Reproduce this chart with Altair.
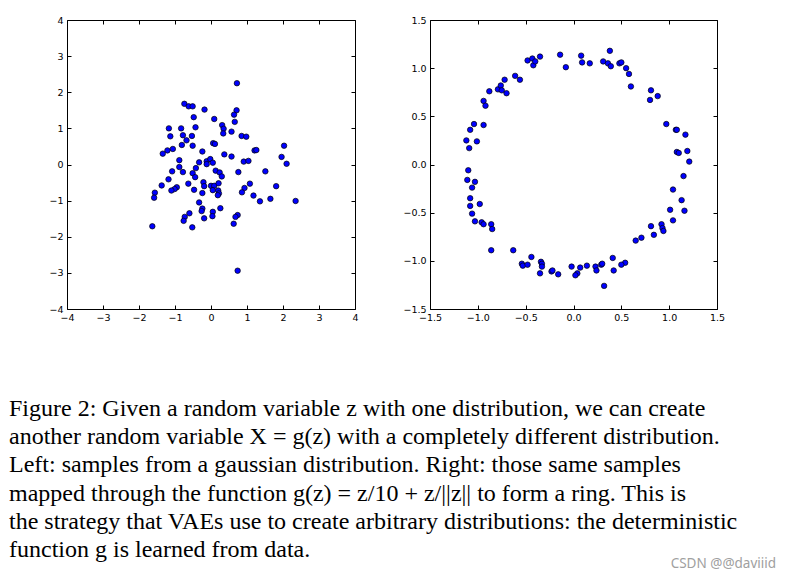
import altair as alt
import pandas as pd

# ---- Left panel: samples z from a gaussian ----
z_x = [-0.74, -0.62, -0.51, -0.18, -0.48, 0.09, -1.17, -0.83, -0.43, -1.13,
       -0.78, -0.53, -0.68, -0.81, -0.51, 0.06, 0.11, -1.06, -1.21, -1.34,
       -0.24, -0.88, -0.33, -0.12, -0.02, 0.05, -0.12, 0.72, 0.71, 0.64,
       0.66, 0.31, 0.35, 0.34, 0.57, 0.85, 0.98, 1.21, 1.26, 2.03,
       0.37, 0.57, 1.96, 2.10, 0.91, 1.04, -0.88, -1.08, -0.78, -0.42,
       -0.51, -0.44, -1.18, -1.37, -0.63, -0.21, -0.19, 0.00, 0.09, -0.95,
       -1.01, -1.10, -0.47, -0.24, 0.05, -1.56, -1.58, -0.33, -0.24, -0.26,
       0.05, -0.60, -0.73, -0.76, -0.19, 0.04, -0.52, -1.63, 0.13, 0.24,
       0.30, 0.76, 1.51, 0.21, 0.20, 0.22, 0.19, 1.08, 0.93, 0.86,
       1.81, 1.18, 1.65, 1.36, 2.35, 0.26, 0.74, 0.68, 0.63, 0.74]
z_y = [1.68, 1.61, 1.61, 1.52, 1.31, 1.26, 1.00, 1.00, 1.03, 0.78,
       0.81, 0.79, 0.67, 0.54, 0.52, 0.59, 0.57, 0.43, 0.39, 0.30,
       0.36, 0.12, 0.06, 0.09, 0.15, 0.05, 0.01, 2.25, 1.50, 1.38,
       1.18, 1.09, 0.99, 0.86, 0.91, 0.79, 0.77, 0.39, 0.40, 0.52,
       0.28, 0.22, 0.21, 0.02, 0.08, 0.10, -0.07, -0.19, -0.21, -0.10,
       -0.24, -0.35, -0.41, -0.58, -0.53, -0.49, -0.60, -0.59, -0.59, -0.63,
       -0.68, -0.72, -0.70, -0.79, -0.71, -0.78, -0.92, -1.05, -1.22, -1.29,
       -1.31, -1.35, -1.45, -1.56, -1.49, -1.43, -1.74, -1.71, -0.17, -0.22,
       -0.33, -0.21, -0.19, -0.52, -0.72, -0.80, -0.85, -0.53, -0.65, -0.77,
       -0.60, -0.86, -0.95, -1.02, -1.01, -1.21, -1.40, -1.45, -1.64, -2.94]

# ---- Right panel: the same samples mapped to a ring ----
g_x = [-1.12, -1.09, -1.08, -1.04, -1.01, -0.94, -0.94, -0.92, -0.88, -0.79, -0.76, -0.75,
       -0.72, -0.70, -0.61, -0.56, -0.48, -0.43, -0.42, -0.40, -0.35, -0.14, -0.08,
       0.08, 0.09, 0.17, 0.31, 0.38, 0.36, 0.39, 0.48, 0.50, 0.55, 0.58, 0.60, 0.81,
       0.80, 0.88, 0.97, 1.07, 1.08, 1.17, 1.08, 1.10, 1.19,
       1.21, 1.15, 1.04, 1.13, 1.16, 1.01, 1.04, 0.81, 0.92, 0.93, 0.94, 0.84, 0.71,
       0.65, 0.41, 0.54, 0.50, 0.42, 0.29, 0.30, 0.23, 0.24, 0.14, 0.07, 0.04, 0.02,
       -0.02, 0.32,
       -1.10, -1.11, -1.03, -1.06, -1.08, -1.08, -0.98, -1.06, -1.03, -0.96, -0.94,
       -0.86, -0.85, -0.86, -0.63, -0.44, -0.54, -0.53, -0.48, -0.34, -0.33, -0.33,
       -0.35, -0.23, -0.22, -0.16]
g_y = [0.25, 0.17, 0.36, 0.42, 0.24, 0.41, 0.66, 0.61, 0.76, 0.78, 0.82, 0.77,
       0.88, 0.74, 0.92, 0.88, 1.08, 1.10, 1.03, 1.07, 1.12, 1.14, 1.01,
       1.13, 1.06, 1.05, 1.07, 1.18, 1.05, 1.02, 1.05, 1.06, 1.00, 0.94, 0.81, 0.77,
       0.67, 0.71, 0.42, 0.36, 0.36, 0.31, 0.13, 0.12, 0.14,
       0.03, -0.12, -0.26, -0.37, -0.48, -0.47, -0.58, -0.64, -0.62, -0.66, -0.69, -0.73, -0.76,
       -0.79, -0.97, -1.02, -1.04, -1.10, -1.04, -1.03, -1.06, -1.10, -1.05, -1.07, -1.13, -1.15,
       -1.06, -1.26,
       -0.06, -0.16, -0.18, -0.24, -0.35, -0.43, -0.41, -0.51, -0.59, -0.60, -0.62,
       -0.62, -0.67, -0.89, -0.89, -0.96, -1.03, -1.05, -1.04, -1.01, -1.03, -1.06,
       -1.13, -1.11, -1.10, -1.14]

left_ticks = [-4, -3, -2, -1, 0, 1, 2, 3, 4]
right_ticks = [-1.5, -1.0, -0.5, 0.0, 0.5, 1.0, 1.5]

caption_lines = [
    "Figure 2: Given a random variable z with one distribution, we can create",
    "another random variable X = g(z) with a completely different distribution.",
    "Left: samples from a gaussian distribution. Right: those same samples",
    "mapped through the function g(z) = z/10 + z/||z|| to form a ring. This is",
    "the strategy that VAEs use to create arbitrary distributions: the deterministic",
    "function g is learned from data.",
]
watermark = "CSDN @@daviiid"

LABEL_FONT = "DejaVu Sans"


def panel(xs, ys, ticks, fmt, W, H, y_extent):
    df = pd.DataFrame({"x": xs, "y": ys})
    dom = [ticks[0], ticks[-1]]
    xs_scale = alt.Scale(domain=dom, nice=False, zero=False)
    ys_scale = alt.Scale(domain=dom, nice=False, zero=False)
    lab = dict(values=ticks, format=fmt, ticks=False, domain=False, grid=False,
               labelFont=LABEL_FONT, labelFontSize=9.5, labelColor="black",
               labelFlush=False, labelOverlap=False, labelBound=False, title=None)
    tk = dict(values=ticks, labels=False, domain=False, grid=False, ticks=True,
              tickSize=4, tickColor="black", tickWidth=1, title=None)
    base = alt.Chart(df)
    pts = base.mark_circle(size=30, color="#0000ff", opacity=1, stroke="black",
                           strokeWidth=0.7).encode(
        x=alt.X("x:Q", scale=xs_scale, axis=alt.Axis(orient="bottom", labelPadding=3, **lab)),
        y=alt.Y("y:Q", scale=ys_scale, axis=alt.Axis(orient="left", labelPadding=4,
                                                     minExtent=y_extent, **lab)),
    )
    t1 = base.mark_circle(opacity=0).encode(
        x=alt.X("x:Q", scale=xs_scale, axis=alt.Axis(orient="top", offset=-H, **tk)),
        y=alt.Y("y:Q", scale=ys_scale, axis=alt.Axis(orient="right", offset=-W, **tk)),
    )
    t2 = base.mark_circle(opacity=0).encode(
        x=alt.X("x:Q", scale=xs_scale, axis=alt.Axis(orient="bottom", offset=-H, **tk)),
        y=alt.Y("y:Q", scale=ys_scale, axis=alt.Axis(orient="left", offset=-W, **tk)),
    )
    return alt.layer(t1, t2, pts).resolve_axis(x="independent", y="independent").properties(
        width=W, height=H)


left = panel(z_x, z_y, left_ticks, "d", 288, 289, 58)
right = panel(g_x, g_y, right_ticks, ".1f", 287, 289, 30)

cap_df = pd.DataFrame({"line": caption_lines, "i": list(range(len(caption_lines)))})
cap_text = alt.Chart(cap_df).mark_text(
    align="left", baseline="alphabetic", font="Liberation Serif", fontSize=24, color="black"
).encode(
    x=alt.value(-58),
    y=alt.Y("i:Q", scale=alt.Scale(domain=[0, 5], range=[83, 224]), axis=None),
    text="line:N",
)
wm = alt.Chart(pd.DataFrame({"t": [watermark]})).mark_text(
    align="right", baseline="alphabetic", font="Noto Sans", fontSize=13.5, color="#a0a0a0"
).encode(x=alt.value(709), y=alt.value(235), text="t:N")
caption = alt.layer(cap_text, wm).properties(
    width=640, height=234, view=alt.ViewConfig(stroke="transparent"))

chart = alt.vconcat(
    alt.hconcat(left, right, spacing=40),
    caption,
    spacing=10,
).properties(
    padding={"left": 0, "top": 6, "right": 0, "bottom": 0}
).configure_view(stroke="black", strokeWidth=1)

chart.save("out.html", embed_options={"renderer": "svg", "actions": False})
